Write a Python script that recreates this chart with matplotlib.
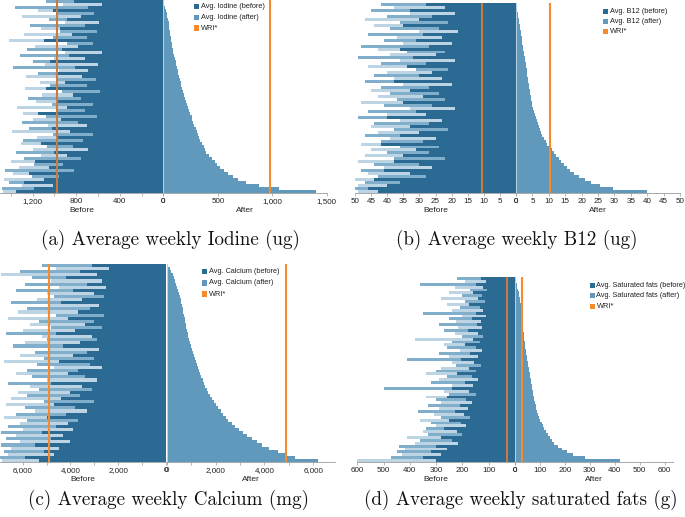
import numpy as np
import matplotlib
matplotlib.use("Agg")
import matplotlib.pyplot as plt
from matplotlib.patches import Rectangle

# ---------------- data (rows ordered top -> bottom) ----------------
iodine_before = [820, 560, 690, 1010, 640, 760, 880, 590, 720, 950, 610, 840, 700, 1100, 650, 780,
                 930, 560, 870, 720, 1040, 600, 810, 690, 980, 750, 620, 900, 700, 1080, 580, 830,
                 760, 990, 650, 880, 720, 1150, 610, 940, 780, 700, 1020, 860, 650, 970, 740, 1120,
                 830, 690, 1000, 880, 760, 1180, 920, 1050, 820, 1230, 960, 1100, 1280, 1010, 1190, 1350]
iodine_before_spread = [1080, 920, 1360, 1150, 980, 1300, 1050, 900, 1220, 1120, 950, 1280, 1010, 1420, 880, 1180,
                        1250, 900, 1320, 1000, 1200, 1090, 1380, 960, 1150, 1260, 990, 1130, 1040, 1270, 930, 1110,
                        1240, 1170, 1020, 1340, 970, 1290, 1080, 1200, 1300, 1060, 1230, 1390, 1010, 1160, 1290, 1310,
                        1070, 1200, 1350, 1120, 1280, 1400, 1190, 1330, 1450, 1380, 1210, 1460, 1420, 1300, 1480, 1470]
iodine_after = [3, 10, 17, 22, 30, 37, 43, 48, 52, 56, 59, 63, 67, 72, 77, 82,
                85, 92, 98, 105, 112, 118, 125, 131, 138, 144, 151, 158, 166, 175, 184, 193,
                202, 211, 221, 230, 239, 248, 259, 268, 276, 285, 296, 308, 320, 331, 340, 354,
                370, 385, 396, 420, 445, 472, 495, 525, 560, 595, 640, 690, 760, 880, 1060, 1400]
iodine_wri = 980

b12_before = [28, 22, 33, 19, 26, 30, 21, 35, 24, 18, 29, 23, 31, 20, 27, 36,
              22, 25, 32, 19, 28, 34, 21, 26, 30, 23, 38, 20, 27, 33, 24, 29,
              22, 35, 26, 19, 31, 28, 40, 23, 27, 33, 21, 30, 36, 25, 29, 42,
              24, 31, 27, 35, 22, 38, 30, 26, 41, 33, 28, 44, 36, 40, 46, 43]
b12_before_spread = [42, 38, 45, 33, 40, 47, 36, 44, 39, 30, 46, 37, 41, 35, 48, 43,
                     34, 39, 49, 36, 42, 46, 31, 40, 44, 38, 47, 35, 42, 45, 39, 43,
                     37, 48, 41, 33, 46, 40, 49, 36, 44, 45, 38, 43, 47, 39, 42, 48,
                     36, 45, 40, 47, 38, 49, 44, 41, 48, 46, 43, 50, 47, 49, 50, 49]
b12_after = [0.1, 0.25, 0.4, 0.5, 0.6, 0.8, 0.95, 1.1, 1.3, 1.4, 1.55, 1.7, 1.8, 1.95, 2.1, 2.25,
             2.4, 2.55, 2.7, 2.85, 3.0, 3.1, 3.25, 3.4, 3.5, 3.65, 3.75, 3.9, 4.0, 4.15, 4.3, 4.45,
             4.6, 4.8, 5.0, 5.25, 5.5, 5.75, 6.0, 6.3, 6.6, 6.9, 7.2, 7.6, 8.0, 8.5, 9.0, 9.6,
             10.2, 10.9, 11.6, 12.3, 13.0, 13.8, 14.7, 15.5, 16.4, 17.7, 19.2, 20.9, 22.8, 25.5, 29.6, 40.0]
b12_wri = 10.5

calcium_before = [3100, 2400, 3600, 2900, 4200, 2700, 3300, 2500, 3900, 3000, 2600, 3500, 4400, 2800, 3200, 3700,
                  2600, 4100, 3000, 3400, 2700, 3800, 4600, 3100, 2900, 3600, 4300, 2800, 3300, 3900, 3000, 4500,
                  3200, 2700, 3700, 4100, 3400, 2900, 4800, 3500, 3100, 4000, 3600, 4400, 3000, 4700, 3800, 3300,
                  4200, 5000, 3700, 4100, 4600, 3900, 5200, 4300, 4800, 4000, 5500, 4500, 5100, 4700, 5900, 5300]
calcium_before_spread = [5200, 4600, 6100, 6900, 5600, 4800, 5900, 4500, 6300, 5000, 4700, 5400, 6500, 4900, 5800, 6200,
                         4600, 6600, 5300, 5700, 4800, 6000, 6700, 5200, 5000, 5900, 6400, 4900, 5500, 6100, 5100, 6800,
                         5400, 4700, 5800, 6300, 5600, 5000, 6600, 5700, 5300, 6200, 5800, 6500, 5100, 6700, 5900, 5500,
                         6300, 6800, 5800, 6100, 6600, 6000, 6900, 6300, 6700, 6100, 6900, 6500, 6800, 6600, 6950, 6850]
calcium_after = [40, 110, 170, 230, 280, 330, 380, 425, 465, 500, 530, 565, 595, 625, 650, 675,
                 700, 725, 752, 775, 800, 827, 853, 880, 905, 940, 980, 1015, 1050, 1090, 1130, 1175,
                 1225, 1270, 1315, 1365, 1415, 1465, 1520, 1570, 1625, 1700, 1775, 1850, 1930, 2015, 2100, 2200,
                 2310, 2410, 2510, 2650, 2790, 2950, 3110, 3300, 3490, 3700, 3910, 4200, 4540, 4880, 5250, 6200]
calcium_wri = 4900

satfat_before = [130, 110, 150, 120, 105, 160, 125, 140, 115, 175, 135, 120, 150, 110, 165, 130,
                 145, 125, 180, 140, 120, 160, 135, 190, 150, 125, 170, 140, 205, 155, 130, 175,
                 150, 220, 165, 140, 190, 160, 240, 175, 150, 260, 185, 165, 210, 180, 230, 195,
                 170, 250, 205, 185, 270, 220, 200, 280, 240, 215, 300, 260, 320, 280, 350, 300]
satfat_before_spread = [220, 190, 360, 230, 170, 250, 200, 280, 190, 260, 210, 240, 350, 200, 250, 225,
                        290, 215, 270, 230, 200, 380, 240, 270, 260, 210, 290, 250, 410, 240, 225, 280,
                        300, 340, 260, 290, 320, 240, 500, 270, 250, 340, 300, 280, 330, 290, 370, 310,
                        280, 360, 320, 300, 340, 350, 330, 410, 360, 380, 440, 420, 450, 430, 470, 600]
satfat_after = [1, 4, 7, 10, 12, 15, 17, 19, 21, 23, 24, 26, 28, 29, 30, 31,
                32, 33, 34, 35, 36, 37, 39, 40, 42, 44, 46, 48, 50, 52, 54, 56,
                58, 60, 61, 63, 65, 67, 69, 71, 73, 75, 78, 80, 83, 86, 90, 94,
                98, 102, 107, 112, 118, 125, 132, 139, 147, 158, 172, 188, 207, 232, 280, 420]
satfat_wri = 30

# ---------------- style ----------------
DARK = "#2b6a93"
MED = "#6099bb"
LIGHT_A = "#80aecb"
LIGHT_B = "#bdd4e4"
ORANGE = "#f58b2c"
ORANGE_DIM = "#c97a3c"
SANS = ["Liberation Sans", "DejaVu Sans"]
plt.rcParams["font.family"] = SANS

W, H = 685, 517
fig = plt.figure(figsize=(W / 100, H / 100), dpi=100)


def rect(x0, y0, x1, y1):
    return [x0 / W, 1 - y1 / H, (x1 - x0) / W, (y1 - y0) / H]


def fmt(v):
    if float(v).is_integer():
        return f"{int(v):,}"
    return f"{v:g}"


def style_axis(ax, ticks, labelled, lim):
    for s in ["top", "left", "right"]:
        ax.spines[s].set_visible(False)
    ax.spines["bottom"].set_color("#9a9a9a")
    ax.spines["bottom"].set_linewidth(0.6)
    ax.set_xlim(*lim)
    ax.set_xticks(ticks)
    ax.set_xticklabels([fmt(t) if t in labelled else "" for t in ticks])
    ax.tick_params(axis="x", length=2.5, width=0.5, color="#9a9a9a", pad=1.2,
                   labelsize=5.8, labelcolor="#222222")
    ax.tick_params(axis="y", left=False, labelleft=False)
    ax.set_yticks([])
    ax.patch.set_alpha(0)


def panel(lbox, rbox, ytop, ybot, dark, spread, after, wri,
          llim, lticks, llab, rlim, rticks, rlab, wri_left_color):
    n = len(dark)
    y = np.arange(n)
    axl = fig.add_axes(rect(lbox[0], ytop, lbox[1], ybot))
    axr = fig.add_axes(rect(rbox[0], ytop, rbox[1], ybot))
    cols = [LIGHT_A if i % 2 == 0 else LIGHT_B for i in range(n)]
    axl.barh(y, spread, height=1.0, color=cols, linewidth=0, antialiased=False)
    axl.barh(y, dark, height=1.0, color=DARK, linewidth=0, antialiased=False)
    axl.axvline(wri, color=wri_left_color, lw=1.5, zorder=3)
    axl.set_ylim(n - 0.5, -0.5)
    style_axis(axl, lticks, llab, llim)
    axl.set_xlabel("Before", fontsize=6, labelpad=1.5, color="#222222")

    axr.barh(y, after, height=1.0, color=MED, linewidth=0, antialiased=False)
    axr.axvline(0, color="#b3cfe0", lw=0.8, zorder=2)
    axr.axvline(wri, color=ORANGE, lw=1.5, zorder=3)
    axr.set_ylim(n - 0.5, -0.5)
    style_axis(axr, rticks, rlab, rlim)
    axr.set_xlabel("After", fontsize=6, labelpad=1.5, color="#222222")


def legend(x, ys, labels):
    for yy, lab, c in zip(ys, labels, [DARK, MED, ORANGE]):
        fig.add_artist(Rectangle((x / W, 1 - (yy + 2.6) / H), 5 / W, 5.2 / H,
                                 transform=fig.transFigure, color=c, lw=0))
        fig.text((x + 7) / W, 1 - yy / H, lab, fontsize=5.3, va="center", ha="left",
                 color="#222222")


# (a) Iodine
panel((0, 163.3), (163.3, 326.7), 0, 193, iodine_before, iodine_before_spread, iodine_after,
      iodine_wri, (1500, 0), list(range(0, 1500, 200)), [0, 400, 800, 1200],
      (0, 1500), [0, 500, 1000, 1500], [0, 500, 1000, 1500], ORANGE_DIM)
legend(194, [6.7, 17.3, 28.0], ["Avg. Iodine (before)", "Avg. Iodine (after)", "WRI*"])

# (b) B12
panel((355, 516), (516, 680), 3, 193, b12_before, b12_before_spread, b12_after,
      b12_wri, (50, 0), list(range(0, 51, 5)), list(range(0, 51, 5)),
      (0, 50), list(range(0, 51, 5)), list(range(0, 51, 5)), ORANGE_DIM)
legend(603, [11.7, 21.7, 31.7], ["Avg. B12 (before)", "Avg. B12 (after)", "WRI*"])

# (c) Calcium
panel((0, 166), (167, 335), 264, 462, calcium_before, calcium_before_spread, calcium_after,
      calcium_wri, (6950, 0), list(range(0, 7000, 1000)), [0, 2000, 4000, 6000],
      (0, 6900), list(range(0, 7000, 1000)), [0, 2000, 4000, 6000], ORANGE)
legend(202, [271.7, 283.0, 294.0], ["Avg. Calcium (before)", "Avg. Calcium (after)", "WRI*"])

# (d) Saturated fats
panel((357.3, 515), (515, 673.3), 277, 462, satfat_before, satfat_before_spread, satfat_after,
      satfat_wri, (600, 0), list(range(0, 601, 100)), list(range(0, 601, 100)),
      (0, 635), list(range(0, 601, 100)), list(range(0, 601, 100)), ORANGE_DIM)
legend(589.5, [285.7, 295.7, 306.2],
       ["Avg. Saturated fats (before)", "Avg. Saturated fats (after)", "WRI*"])

# captions
caps = [(170, 240, "(a) Average weekly Iodine (ug)"),
        (517, 240, "(b) Average weekly B12 (ug)"),
        (168, 500, "(c) Average weekly Calcium (mg)"),
        (521, 500, "(d) Average weekly saturated fats (g)")]
for cx, cy, t in caps:
    fig.text(cx / W, 1 - cy / H, t, ha="center", va="center", fontsize=13.7,
             family=["cmr10", "DejaVu Serif"], color="#111111")

fig.savefig("out.png", dpi=100)
